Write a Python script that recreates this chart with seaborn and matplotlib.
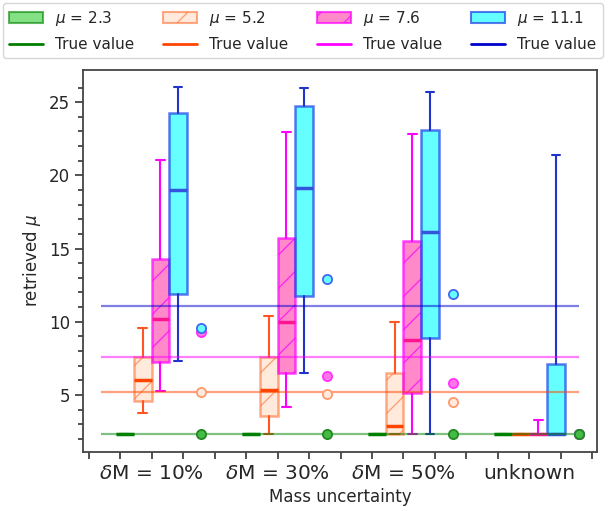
import numpy as np
import pandas as pd
import matplotlib
matplotlib.use('Agg')
import matplotlib.pyplot as plt
import seaborn as sns
from matplotlib.patches import Patch
from matplotlib.lines import Line2D

sns.set_style("ticks")
plt.rcParams['font.family'] = ['DejaVu Sans']

# Data
groups = [r'$\delta$M = 10%', r'$\delta$M = 30%', r'$\delta$M = 50%', 'unknown']
true_mu = [2.3, 5.2, 7.6, 11.1]

# box stats per true value, one entry per group: whislo, q1, med, q3, whishi
green_whislo = [2.3, 2.3, 2.3, 2.3]
green_q1 = [2.3, 2.3, 2.3, 2.3]
green_med = [2.3, 2.3, 2.3, 2.3]
green_q3 = [2.3, 2.3, 2.3, 2.3]
green_whishi = [2.3, 2.3, 2.3, 2.3]

orange_whislo = [3.75, 2.3, 2.3, 2.3]
orange_q1 = [4.59, 3.57, 2.3, 2.3]
orange_med = [6.02, 5.34, 2.89, 2.3]
orange_q3 = [7.61, 7.57, 6.52, 2.3]
orange_whishi = [9.55, 10.39, 10.0, 2.3]

magenta_whislo = [5.27, 4.2, 2.3, 2.3]
magenta_q1 = [7.25, 6.52, 5.16, 2.3]
magenta_med = [10.2, 10.0, 8.75, 2.3]
magenta_q3 = [14.26, 15.73, 15.5, 2.3]
magenta_whishi = [21.03, 22.96, 22.8, 3.29]

cyan_whislo = [7.32, 6.52, 2.3, 2.3]
cyan_q1 = [11.87, 11.75, 8.87, 2.3]
cyan_med = [19.03, 19.17, 16.14, 2.3]
cyan_q3 = [24.28, 24.73, 23.08, 7.09]
cyan_whishi = [26.03, 25.99, 25.67, 21.37]

# single-point estimates drawn to the right of each group
point_green = [2.3, 2.3, 2.3, 2.3]
point_orange = [5.23, 5.05, 4.52, 2.3]
point_magenta = [9.28, 6.3, 5.84, 2.3]
point_cyan = [9.59, 12.89, 11.87, 2.3]

series = [
    dict(whislo=green_whislo, q1=green_q1, med=green_med, q3=green_q3, whishi=green_whishi,
         face=(0.2, 0.8, 0.2, 0.6), edge=(0.0, 0.5, 0.0, 0.6), line='green', med_c='green',
         hatch=None, pt=point_green, pt_face='#44bb44', pt_edge='#228822', true_c='green'),
    dict(whislo=orange_whislo, q1=orange_q1, med=orange_med, q3=orange_q3, whishi=orange_whishi,
         face=(1.0, 0.6, 0.3, 0.2), edge=(1.0, 0.4, 0.15, 0.55), line='#ff5522', med_c='orangered',
         hatch='/', pt=point_orange, pt_face='#ffeadb', pt_edge='#ff9a70', true_c='orangered'),
    dict(whislo=magenta_whislo, q1=magenta_q1, med=magenta_med, q3=magenta_q3, whishi=magenta_whishi,
         face=(1.0, 0.08, 0.58, 0.5), edge=(1.0, 0.0, 1.0, 0.7), line='magenta', med_c='deeppink',
         hatch='/', pt=point_magenta, pt_face='#ff77e6', pt_edge='#ff33ff', true_c='magenta'),
    dict(whislo=cyan_whislo, q1=cyan_q1, med=cyan_med, q3=cyan_q3, whishi=cyan_whishi,
         face=(0.0, 1.0, 1.0, 0.6), edge=(0.1, 0.25, 0.9, 0.7), line='#2233cc', med_c='#3355dd',
         hatch=None, pt=point_cyan, pt_face='#66ffff', pt_edge='#4466ee', true_c='mediumblue'),
]

fig = plt.figure(figsize=(6.12, 5.11), dpi=100)
ax = fig.add_axes([0.1356, 0.1155, 0.8399, 0.7475])

width = 0.14
offsets = [-1.5 * width, -0.5 * width, 0.5 * width, 1.5 * width]
centers = np.arange(len(groups))

for s, off in zip(series, offsets):
    stats = [dict(whislo=s['whislo'][k], q1=s['q1'][k], med=s['med'][k],
                  q3=s['q3'][k], whishi=s['whishi'][k]) for k in range(len(groups))]
    bp = ax.bxp(stats, positions=centers + off, widths=width, patch_artist=True,
                showfliers=False, manage_ticks=False,
                boxprops=dict(facecolor=s['face'], edgecolor=s['edge'], linewidth=1.8),
                whiskerprops=dict(color=s['line'], linewidth=1.5),
                capprops=dict(color=s['line'], linewidth=1.5),
                medianprops=dict(color=s['med_c'], linewidth=2.5))
    for box in bp['boxes']:
        if s['hatch']:
            box.set_hatch(s['hatch'])

# true value lines
for s, mu in zip(series, true_mu):
    ax.hlines(mu, -0.4, 3.39, color=s['true_c'], alpha=0.5, linewidth=1.6, zorder=4)

# point estimates (green drawn last, on top)
for s in [series[1], series[2], series[3], series[0]]:
    df = pd.DataFrame({'x': centers + 0.39, 'y': s['pt']})
    sns.scatterplot(data=df, x='x', y='y', ax=ax, s=44, color=s['pt_face'],
                    edgecolor=s['pt_edge'], linewidth=1.3, zorder=5, legend=False)

# x ticks every quarter group, labels at the group centres
tick_pos = np.arange(-0.5, 3.51, 0.25)
tick_labels = [''] * len(tick_pos)
for k, g in enumerate(groups):
    tick_labels[2 + 4 * k] = g

ax.set_xlim(-0.544, 3.536)
ax.set_ylim(1.1, 27.2)
ax.set_xticks(tick_pos)
ax.set_xticklabels(tick_labels, fontsize=14.5)
ax.set_yticks([5, 10, 15, 20, 25])
ax.set_yticks(np.arange(2, 27), minor=True)
ax.tick_params(axis='y', which='major', labelsize=12, length=6, width=1.2, color='#333333')
ax.tick_params(axis='y', which='minor', length=3.5, width=1.2, color='#333333')
ax.tick_params(axis='x', which='major', length=5, width=1.2, color='#333333')
ax.set_xlabel('Mass uncertainty', fontsize=12)
ax.set_ylabel(r'retrieved $\mu$', fontsize=12)
for sp in ax.spines.values():
    sp.set_color('#444444')
    sp.set_linewidth(1.3)

handles = []
for s, mu in zip(series, true_mu):
    handles.append(Patch(facecolor=s['face'], edgecolor=s['edge'], hatch=s['hatch'],
                         linewidth=1.5, label=rf'$\mu$ = {mu}'))
    handles.append(Line2D([], [], color=s['true_c'], linewidth=2, label='True value'))
fig.legend(handles=handles, ncol=4, loc='upper left', bbox_to_anchor=(3 / 612, 1 - 3 / 511),
           fontsize=11, handlelength=2.2, handletextpad=0.8, columnspacing=1.9,
           labelspacing=0.6, frameon=True, borderaxespad=0.0)

fig.savefig('out.png', dpi=100)
